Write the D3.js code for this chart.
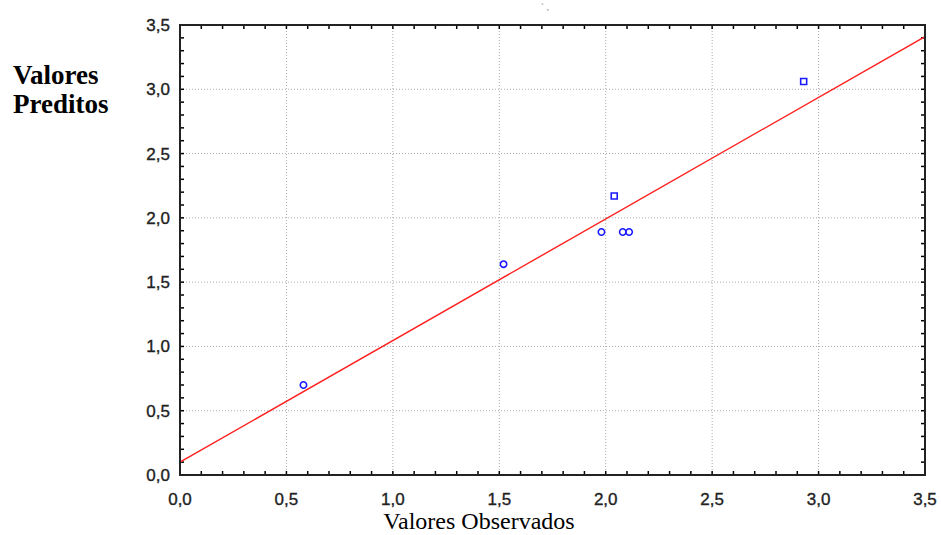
<!DOCTYPE html>
<html><head><meta charset="utf-8">
<script src="https://cdn.jsdelivr.net/npm/d3@7"></script>
<style>body{margin:0;background:#fff}svg{display:block}</style>
</head><body>
<svg id="c" width="941" height="535"></svg>
<script>
const observed = [0.58, 1.52, 1.98, 2.04, 2.08, 2.11, 2.93];
const predicted = [0.70, 1.64, 1.89, 2.17, 1.89, 1.89, 3.06];
const markerShape = ["circle","circle","circle","square","circle","circle","square"];
const fitX = [0, 3.5];
const fitY = [0.10, 3.41];
const xTicks = [0,0.5,1.0,1.5,2.0,2.5,3.0,3.5];
const yTicks = [0,0.5,1.0,1.5,2.0,2.5,3.0,3.5];

const svg = d3.select("#c");
const L=180, R=925, T=25, B=475;
const x = d3.scaleLinear().domain([0,3.5]).range([L,R]);
const y = d3.scaleLinear().domain([0,3.5]).range([B,T]);
const fmt = v => d3.format(".1f")(v).replace(".", ",");
const minor = d3.range(0, 3.5001, 0.1);

// grid
svg.append("g").selectAll("line").data(xTicks.slice(1,-1)).join("line")
  .attr("x1",d=>x(d)).attr("x2",d=>x(d)).attr("y1",T).attr("y2",B)
  .attr("stroke","#aaa").attr("stroke-width",1).attr("stroke-dasharray","1,2");
svg.append("g").selectAll("line").data(yTicks.slice(1,-1)).join("line")
  .attr("y1",d=>y(d)).attr("y2",d=>y(d)).attr("x1",L).attr("x2",R)
  .attr("stroke","#aaa").attr("stroke-width",1).attr("stroke-dasharray","1,2");

// inward ticks on all sides
const tk = svg.append("g").attr("stroke","#000").attr("stroke-width",1.5);
minor.forEach(v=>{
  const len = 4;
  tk.append("line").attr("x1",x(v)).attr("x2",x(v)).attr("y1",B).attr("y2",B-len);
  tk.append("line").attr("x1",x(v)).attr("x2",x(v)).attr("y1",T).attr("y2",T+len);
  tk.append("line").attr("y1",y(v)).attr("y2",y(v)).attr("x1",L).attr("x2",L+len);
  tk.append("line").attr("y1",y(v)).attr("y2",y(v)).attr("x1",R).attr("x2",R-len);
});

// fitted line
svg.append("clipPath").attr("id","pc").append("rect")
  .attr("x",L).attr("y",T).attr("width",R-L).attr("height",B-T);
svg.append("path").attr("clip-path","url(#pc)")
  .datum(fitX.map((v,i)=>[v,fitY[i]]))
  .attr("d", d3.line().x(d=>x(d[0])).y(d=>y(d[1])))
  .attr("fill","none").attr("stroke","#ff2020").attr("stroke-width",1.4);

// points
const pts = observed.map((v,i)=>({x:v,y:predicted[i],s:markerShape[i]}));
svg.append("g").selectAll("path").data(pts).join("path")
  .attr("transform",d=>`translate(${x(d.x)},${y(d.y)})`)
  .attr("d",d=> d.s==="square" ? "M-3,-3H3V3H-3Z" : d3.symbol(d3.symbolCircle, 32)())
  .attr("fill","none").attr("stroke","#1a1aff").attr("stroke-width",1.6);

// frame
svg.append("rect").attr("x",L).attr("y",T).attr("width",R-L).attr("height",B-T)
  .attr("fill","none").attr("stroke","#222").attr("stroke-width",2);

// tick labels
const tf = "Liberation Sans, Arial, sans-serif";
svg.append("g").selectAll("text").data(xTicks).join("text")
  .attr("x",d=>x(d)).attr("y",B+30).attr("text-anchor","middle")
  .attr("font-family",tf).attr("font-size",17)
  .attr("fill","#222").attr("stroke","#222").attr("stroke-width",0.35).text(fmt);
svg.append("g").selectAll("text").data(yTicks).join("text")
  .attr("x",L-10).attr("y",d=>y(d)+6).attr("text-anchor","end")
  .attr("font-family",tf).attr("font-size",17)
  .attr("fill","#222").attr("stroke","#222").attr("stroke-width",0.35).text(fmt);

// axis titles
svg.append("text").attr("x",479).attr("y",529).attr("text-anchor","middle")
  .attr("font-family","Liberation Serif, Times New Roman, serif").attr("font-size",24)
  .attr("fill","#000").text("Valores Observados");
const yl = svg.append("text").attr("font-family","Liberation Serif, Times New Roman, serif")
  .attr("font-size",27).attr("font-weight","bold").attr("fill","#000");
yl.append("tspan").attr("x",13).attr("y",84).text("Valores");
yl.append("tspan").attr("x",13).attr("y",113).text("Preditos");

// clipped title remnants
svg.append("text").attr("x",545).attr("y",10).attr("text-anchor","middle")
  .attr("font-family",tf).attr("font-size",9)
  .attr("fill","#777").text("`     ,");
</script>
</body></html>
